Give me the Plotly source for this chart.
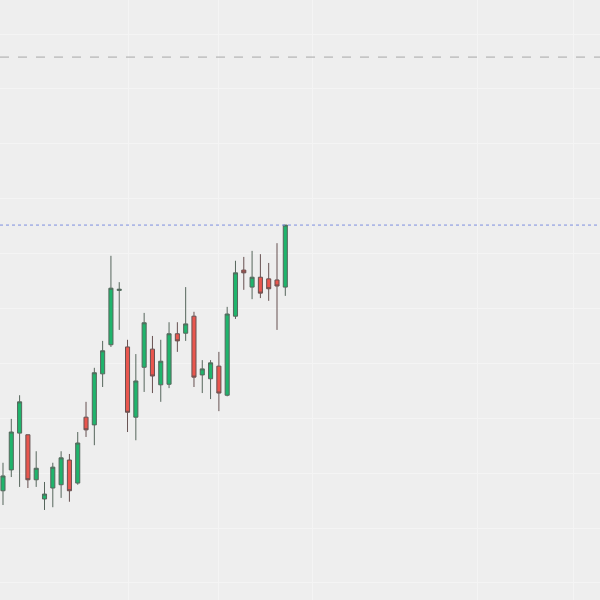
import plotly.graph_objects as go

idx = list(range(35))
opens = [21.68, 22.06, 22.73, 22.70, 21.88, 21.53, 21.73, 21.79, 22.24, 21.82,
         23.02, 22.88, 23.81, 24.34, 25.33, 24.30, 23.02, 23.93, 24.26, 23.61,
         23.62, 24.54, 24.55, 24.86, 23.79, 23.72, 23.95, 23.42, 24.86, 25.70,
         25.39, 25.57, 25.54, 25.52, 25.39]
highs = [22.19, 22.99, 23.42, 22.70, 22.40, 21.84, 22.19, 22.40, 22.35, 22.75,
         23.30, 23.92, 24.41, 25.96, 25.48, 24.43, 24.17, 24.92, 24.50, 24.43,
         24.75, 24.75, 25.39, 24.94, 24.06, 24.06, 24.21, 25.03, 25.87, 25.94,
         26.05, 25.99, 25.83, 26.19, 26.52]
lows = [21.42, 21.93, 21.75, 21.73, 21.75, 21.33, 21.38, 21.55, 21.48, 21.79,
        22.66, 22.51, 23.57, 24.30, 24.61, 22.75, 22.60, 23.48, 23.46, 23.30,
        23.55, 24.21, 24.41, 23.57, 23.46, 23.35, 23.13, 23.40, 24.81, 25.34,
        25.17, 25.19, 25.14, 24.61, 25.23]
closes = [21.95, 22.75, 23.30, 21.88, 22.09, 21.62, 22.11, 22.28, 21.68, 22.55,
          22.79, 23.83, 24.23, 25.37, 25.35, 23.11, 23.68, 24.74, 23.77, 24.04,
          24.54, 24.41, 24.72, 23.75, 23.90, 24.01, 23.46, 24.90, 25.65, 25.65,
          25.57, 25.28, 25.36, 25.41, 26.52]

last_price = 26.52
ref_level = 29.58
x_grid = [15.06, 25.9, 37.3, 57.2, 68.7]
y_range = [19.69, 30.62]
x_range = [-0.36, 71.9]

fig = go.Figure(go.Candlestick(
    x=idx, open=opens, high=highs, low=lows, close=closes,
    increasing=dict(fillcolor="#1fb46c", line=dict(color="#56665c", width=1)),
    decreasing=dict(fillcolor="#e9564e", line=dict(color="#665050", width=1)),
    whiskerwidth=0,
    showlegend=False,
))

fig.add_hline(y=ref_level, line=dict(color="#a8a8a8", width=1, dash="dash"))
fig.add_hline(y=last_price, line=dict(color="#7d8ee0", width=1, dash="dot"))

fig.update_layout(
    width=600, height=600,
    margin=dict(l=0, r=0, t=0, b=0),
    paper_bgcolor="#eeeeee", plot_bgcolor="#eeeeee",
    showlegend=False,
    xaxis=dict(range=x_range, rangeslider=dict(visible=False),
               tickmode="array", tickvals=x_grid, showticklabels=False,
               showgrid=True, gridcolor="#f4f4f4", gridwidth=1, zeroline=False,
               showline=False, ticks=""),
    yaxis=dict(range=y_range, dtick=1, tick0=20, showticklabels=False,
               showgrid=True, gridcolor="#f4f4f4", gridwidth=1, zeroline=False,
               showline=False, ticks=""),
)

fig.write_html("out.html",
               config={"displayModeBar": False},
               post_script="document.body.style.margin='0';document.body.style.background='#eeeeee';")
